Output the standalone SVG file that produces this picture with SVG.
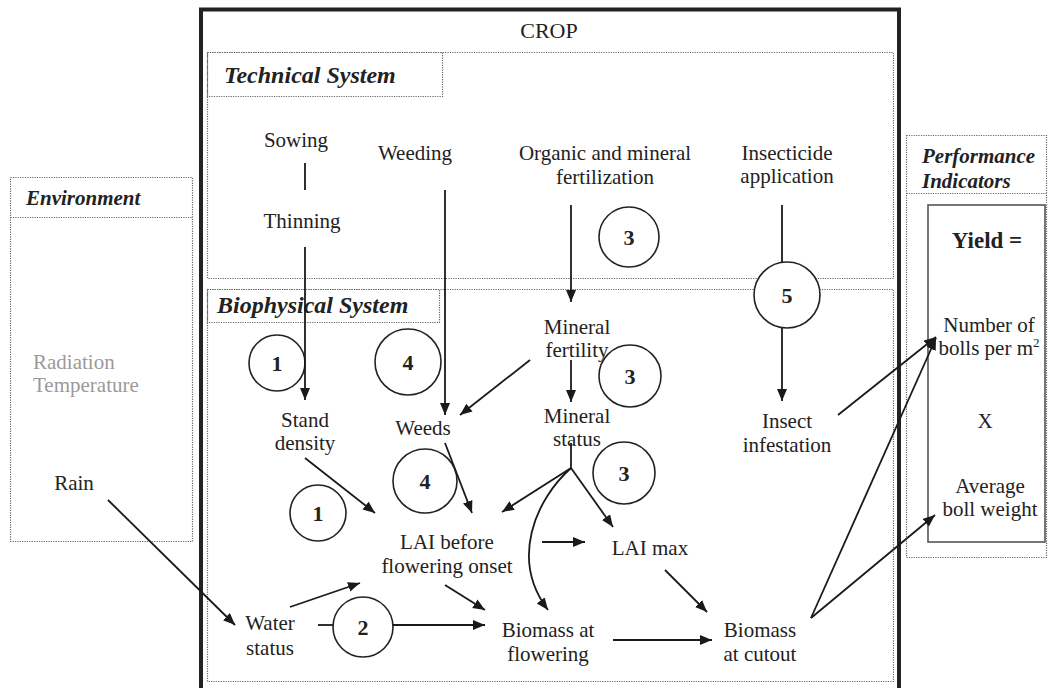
<svg xmlns="http://www.w3.org/2000/svg" width="1048" height="688" viewBox="0 0 1048 688">
<defs>
<marker id="ah" markerUnits="userSpaceOnUse" markerWidth="13" markerHeight="11" refX="12" refY="5" orient="auto">
<path d="M0,0 L12,5 L0,10 z" fill="#1a1a1a"/>
</marker>
<style>
text{font-family:"Liberation Serif","Times New Roman",serif;fill:#222;}
.t{font-size:21px;text-anchor:middle;}
.g{font-size:21px;fill:#9a9a9a;}
.h{font-size:24px;font-weight:bold;font-style:italic;}
.hs{font-size:21px;font-weight:bold;font-style:italic;}
.n{font-size:22px;font-weight:bold;text-anchor:middle;}
.dot{fill:none;stroke:#666;stroke-width:1.2;stroke-dasharray:1.2 1.2;}
.c{fill:#fff;stroke:#222;stroke-width:1.6;}
.l{fill:none;stroke:#1a1a1a;stroke-width:1.8;}
.a{fill:none;stroke:#1a1a1a;stroke-width:1.8;marker-end:url(#ah);}
</style>
</defs>

<g id="crop">
<rect x="201" y="9.5" width="698" height="690" fill="none" stroke="#222" stroke-width="4"/>
<text x="549" y="38" style="font-size:22px;text-anchor:middle">CROP</text>
</g>

<g id="technical-system">
<rect class="dot" x="207.5" y="52.5" width="686" height="226"/>
<rect class="dot" x="207.5" y="52.5" width="235" height="44"/>
<text class="h" x="224" y="83">Technical System</text>
</g>

<g id="biophysical-system">
<rect class="dot" x="207.5" y="289.5" width="686" height="392"/>
<rect class="dot" x="207.5" y="289.5" width="232" height="33"/>
<text class="h" x="217" y="313">Biophysical System</text>
</g>

<g id="environment">
<rect class="dot" x="10.5" y="177.5" width="182" height="364"/>
<line class="dot" x1="10.5" y1="217.5" x2="192.5" y2="217.5"/>
<text class="hs" x="26" y="205">Environment</text>
<text class="g" x="33" y="369">Radiation</text>
<text class="g" x="33" y="392">Temperature</text>
<text class="t" x="74" y="490">Rain</text>
</g>

<g id="performance-indicators">
<rect class="dot" x="906.5" y="135.5" width="140" height="422"/>
<line class="dot" x1="906.5" y1="193.5" x2="1046.5" y2="193.5"/>
<text class="hs" x="922" y="163">Performance</text>
<text class="hs" x="922" y="188">Indicators</text>
</g>

<g id="yield">
<rect x="928" y="205" width="117" height="337" fill="none" stroke="#555" stroke-width="1.6"/>
<text x="987" y="248" style="font-size:23px;font-weight:bold;text-anchor:middle">Yield =</text>
<text class="t" x="989" y="332">Number of</text>
<text class="t" x="989" y="355">bolls per m<tspan dy="-8" style="font-size:13px">2</tspan></text>
<text class="t" x="985" y="428">X</text>
<text class="t" x="990" y="493">Average</text>
<text class="t" x="990" y="516">boll weight</text>
</g>

<g id="sowing"><text class="t" x="296" y="147">Sowing</text></g>
<g id="thinning"><text class="t" x="302" y="228">Thinning</text></g>
<g id="weeding"><text class="t" x="415" y="160">Weeding</text></g>
<g id="fertilization">
<text class="t" x="605" y="160">Organic and mineral</text>
<text class="t" x="605" y="184">fertilization</text>
</g>
<g id="insecticide">
<text class="t" x="787" y="160">Insecticide</text>
<text class="t" x="787" y="183">application</text>
</g>
<g id="mineral-fertility">
<text class="t" x="577" y="334">Mineral</text>
<text class="t" x="577" y="357">fertility</text>
</g>
<g id="stand-density">
<text class="t" x="305" y="427">Stand</text>
<text class="t" x="305" y="450">density</text>
</g>
<g id="weeds"><text class="t" x="423" y="435">Weeds</text></g>
<g id="mineral-status">
<text class="t" x="577" y="423">Mineral</text>
<text class="t" x="577" y="446">status</text>
</g>
<g id="insect-infestation">
<text class="t" x="787" y="428">Insect</text>
<text class="t" x="787" y="452">infestation</text>
</g>
<g id="lai-before">
<text class="t" x="447" y="549">LAI before</text>
<text class="t" x="447" y="573">flowering onset</text>
</g>
<g id="lai-max"><text class="t" x="650" y="555">LAI max</text></g>
<g id="water-status">
<text class="t" x="270" y="630">Water</text>
<text class="t" x="270" y="655">status</text>
</g>
<g id="biomass-flowering">
<text class="t" x="548" y="637">Biomass at</text>
<text class="t" x="548" y="661">flowering</text>
</g>
<g id="biomass-cutout">
<text class="t" x="760" y="637">Biomass</text>
<text class="t" x="760" y="661">at cutout</text>
</g>

<g id="circles">
<g id="c3a"><circle class="c" cx="629" cy="237" r="30"/><text class="n" x="629" y="245">3</text></g>
<g id="c5"><circle class="c" cx="787" cy="295" r="33"/><text class="n" x="787" y="303">5</text></g>
<g id="c1a"><circle class="c" cx="277" cy="363" r="28"/><text class="n" x="277" y="371">1</text></g>
<g id="c4a"><circle class="c" cx="408" cy="362" r="33"/><text class="n" x="408" y="370">4</text></g>
<g id="c3b"><circle class="c" cx="630" cy="376" r="31"/><text class="n" x="630" y="384">3</text></g>
<g id="c4b"><circle class="c" cx="425" cy="481" r="32"/><text class="n" x="425" y="489">4</text></g>
<g id="c3c"><circle class="c" cx="624" cy="473" r="31"/><text class="n" x="624" y="481">3</text></g>
<g id="c1b"><circle class="c" cx="318" cy="513" r="28"/><text class="n" x="318" y="521">1</text></g>
<g id="c2"><circle class="c" cx="363" cy="627" r="30"/><text class="n" x="363" y="635">2</text></g>
</g>

<g id="connectors">
<line class="l" x1="305" y1="163" x2="305" y2="190"/>
<line class="a" x1="305" y1="247" x2="305" y2="400"/>
<line class="a" x1="445" y1="190" x2="445" y2="415"/>
<line class="a" x1="571" y1="205" x2="571" y2="302"/>
<line class="l" x1="782" y1="205" x2="782" y2="262"/>
<line class="a" x1="782" y1="328" x2="782" y2="401"/>
<line class="a" x1="530" y1="360" x2="460" y2="415"/>
<line class="a" x1="571" y1="360" x2="571" y2="402"/>
<line class="l" x1="571" y1="443" x2="571" y2="468"/>
<line class="a" x1="571" y1="468" x2="502" y2="512"/>
<line class="a" x1="571" y1="468" x2="613" y2="527"/>
<path class="a" d="M571,468 C535,500 510,560 548,610"/>
<line class="a" x1="305" y1="458" x2="375" y2="513"/>
<line class="a" x1="445" y1="443" x2="472" y2="513"/>
<line class="a" x1="542" y1="542" x2="585" y2="542"/>
<line class="a" x1="665" y1="570" x2="707" y2="612"/>
<line class="a" x1="445" y1="585" x2="485" y2="610"/>
<line class="a" x1="290" y1="607" x2="360" y2="583"/>
<line class="l" x1="318" y1="625" x2="333" y2="625"/>
<line class="a" x1="393" y1="625" x2="485" y2="625"/>
<line class="a" x1="613" y1="640" x2="712" y2="640"/>
<line class="a" x1="108" y1="500" x2="235" y2="625"/>
<line class="a" x1="838" y1="415" x2="936" y2="337"/>
<line class="a" x1="811" y1="618" x2="936" y2="338"/>
<line class="a" x1="811" y1="618" x2="935" y2="515"/>
</g>
</svg>
